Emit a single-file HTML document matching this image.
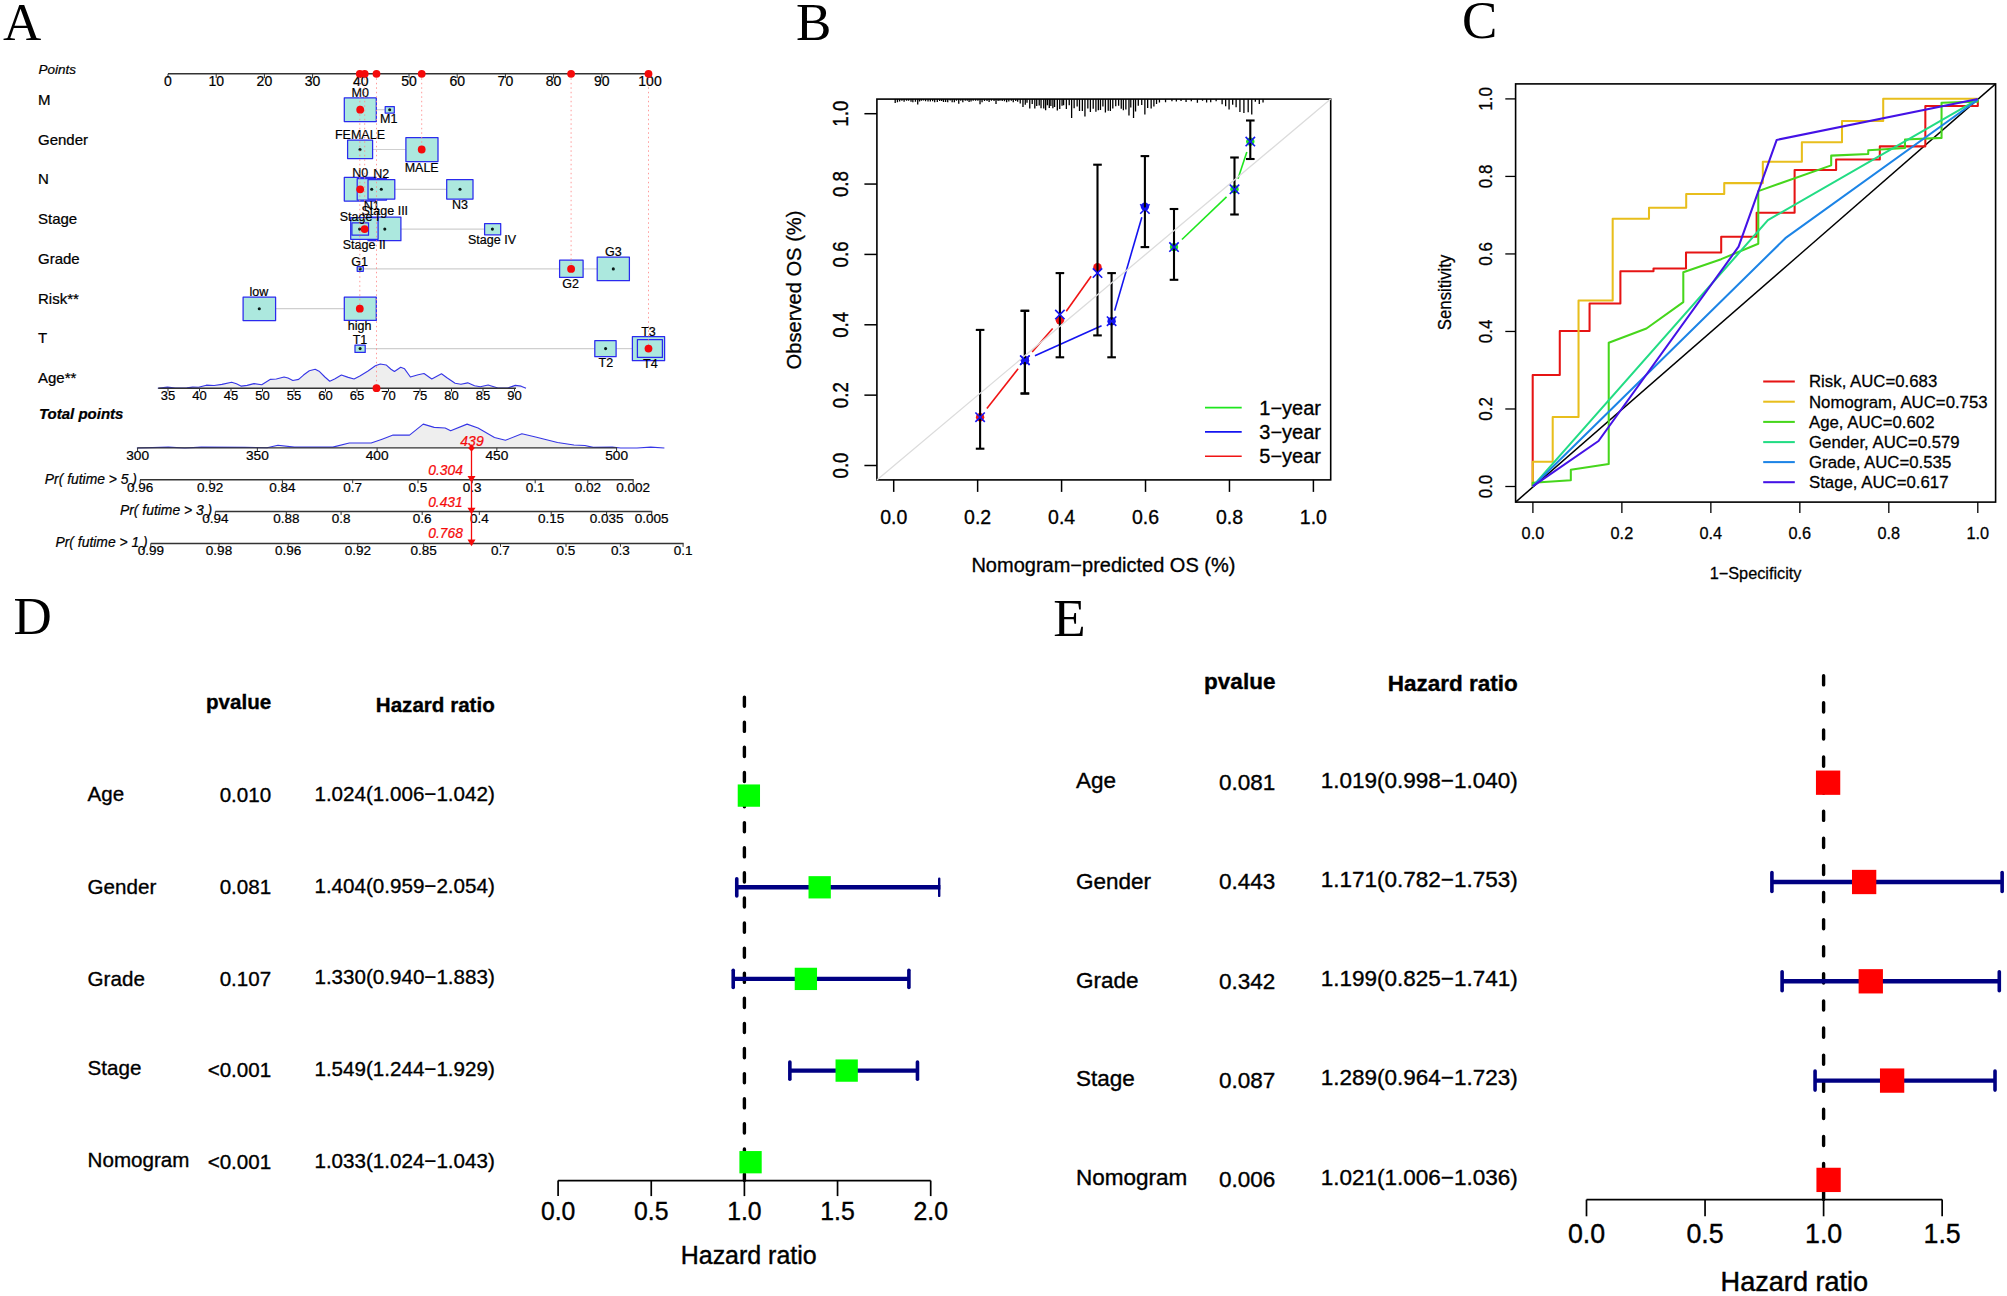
<!DOCTYPE html>
<html lang="en">
<head>
<meta charset="utf-8">
<title>Nomogram figure</title>
<style>
html,body{margin:0;padding:0;background:#fff;}
body{width:2007px;height:1296px;overflow:hidden;}
svg{display:block;}
svg text{font-family:"Liberation Sans", Arial, Helvetica, sans-serif;}
</style>
</head>
<body>
<svg width="2007" height="1296" viewBox="0 0 2007 1296">
<rect x="0" y="0" width="2007" height="1296" fill="#ffffff"/>
<g id="panel-a">
<text x="3" y="39.6" font-size="53" style='font-family:"Liberation Serif", "Times New Roman", Times, serif' fill="#000">A</text>
<line x1="168" y1="73.8" x2="650" y2="73.8" stroke="#333" stroke-width="1.6"/>
<line x1="168" y1="73.8" x2="168" y2="78" stroke="#333" stroke-width="1"/>
<text x="168" y="86.3" font-size="14" text-anchor="middle" fill="#000" stroke="#000" stroke-width="0.22">0</text>
<line x1="216.2" y1="73.8" x2="216.2" y2="78" stroke="#333" stroke-width="1"/>
<text x="216.2" y="86.3" font-size="14" text-anchor="middle" fill="#000" stroke="#000" stroke-width="0.22">10</text>
<line x1="264.4" y1="73.8" x2="264.4" y2="78" stroke="#333" stroke-width="1"/>
<text x="264.4" y="86.3" font-size="14" text-anchor="middle" fill="#000" stroke="#000" stroke-width="0.22">20</text>
<line x1="312.6" y1="73.8" x2="312.6" y2="78" stroke="#333" stroke-width="1"/>
<text x="312.6" y="86.3" font-size="14" text-anchor="middle" fill="#000" stroke="#000" stroke-width="0.22">30</text>
<line x1="360.8" y1="73.8" x2="360.8" y2="78" stroke="#333" stroke-width="1"/>
<text x="360.8" y="86.3" font-size="14" text-anchor="middle" fill="#000" stroke="#000" stroke-width="0.22">40</text>
<line x1="409" y1="73.8" x2="409" y2="78" stroke="#333" stroke-width="1"/>
<text x="409" y="86.3" font-size="14" text-anchor="middle" fill="#000" stroke="#000" stroke-width="0.22">50</text>
<line x1="457.2" y1="73.8" x2="457.2" y2="78" stroke="#333" stroke-width="1"/>
<text x="457.2" y="86.3" font-size="14" text-anchor="middle" fill="#000" stroke="#000" stroke-width="0.22">60</text>
<line x1="505.4" y1="73.8" x2="505.4" y2="78" stroke="#333" stroke-width="1"/>
<text x="505.4" y="86.3" font-size="14" text-anchor="middle" fill="#000" stroke="#000" stroke-width="0.22">70</text>
<line x1="553.6" y1="73.8" x2="553.6" y2="78" stroke="#333" stroke-width="1"/>
<text x="553.6" y="86.3" font-size="14" text-anchor="middle" fill="#000" stroke="#000" stroke-width="0.22">80</text>
<line x1="601.8" y1="73.8" x2="601.8" y2="78" stroke="#333" stroke-width="1"/>
<text x="601.8" y="86.3" font-size="14" text-anchor="middle" fill="#000" stroke="#000" stroke-width="0.22">90</text>
<line x1="650" y1="73.8" x2="650" y2="78" stroke="#333" stroke-width="1"/>
<text x="650" y="86.3" font-size="14" text-anchor="middle" fill="#000" stroke="#000" stroke-width="0.22">100</text>
<text x="38.5" y="73.8" font-size="13.5" font-style="italic" fill="#000" stroke="#000" stroke-width="0.22">Points</text>
<text x="38" y="104.7" font-size="15" fill="#000" stroke="#000" stroke-width="0.24">M</text>
<text x="38" y="144.8" font-size="15" fill="#000" stroke="#000" stroke-width="0.24">Gender</text>
<text x="38" y="184.3" font-size="15" fill="#000" stroke="#000" stroke-width="0.24">N</text>
<text x="38" y="223.8" font-size="15" fill="#000" stroke="#000" stroke-width="0.24">Stage</text>
<text x="38" y="263.8" font-size="15" fill="#000" stroke="#000" stroke-width="0.24">Grade</text>
<text x="38" y="303.9" font-size="15" fill="#000" stroke="#000" stroke-width="0.24">Risk**</text>
<text x="38" y="343.2" font-size="15" fill="#000" stroke="#000" stroke-width="0.24">T</text>
<text x="38" y="383.1" font-size="15" fill="#000" stroke="#000" stroke-width="0.24">Age**</text>
<text x="39" y="419.2" font-size="15" font-style="italic" font-weight="bold" fill="#000" stroke="#000" stroke-width="0.24">Total points</text>
<line x1="376.3" y1="109.7" x2="385.2" y2="109.7" stroke="#cfcfcf" stroke-width="1.2"/>
<rect x="344.3" y="97.8" width="32" height="23.7" fill="#ace8de" stroke="#2a2aee" stroke-width="1.25" stroke-linejoin="round"/>
<rect x="385.2" y="106.5" width="9.1" height="6.5" fill="#ace8de" stroke="#2a2aee" stroke-width="1.25" stroke-linejoin="round"/>
<circle cx="389.7" cy="109.7" r="1.55" fill="#0a1a18"/>
<text x="360.2" y="96.7" font-size="12.5" text-anchor="middle" fill="#000" stroke="#000" stroke-width="0.2">M0</text>
<text x="388.7" y="123.4" font-size="12.5" text-anchor="middle" fill="#000" stroke="#000" stroke-width="0.2">M1</text>
<line x1="372.6" y1="149.5" x2="405.9" y2="149.5" stroke="#cfcfcf" stroke-width="1.2"/>
<rect x="347.6" y="140.2" width="25" height="18.3" fill="#ace8de" stroke="#2a2aee" stroke-width="1.25" stroke-linejoin="round"/>
<rect x="405.9" y="137.6" width="32.1" height="23.9" fill="#ace8de" stroke="#2a2aee" stroke-width="1.25" stroke-linejoin="round"/>
<circle cx="360" cy="149.5" r="1.55" fill="#0a1a18"/>
<text x="360" y="139.3" font-size="12.5" text-anchor="middle" fill="#000" stroke="#000" stroke-width="0.2">FEMALE</text>
<text x="421.7" y="171.5" font-size="12.5" text-anchor="middle" fill="#000" stroke="#000" stroke-width="0.2">MALE</text>
<line x1="394.8" y1="189.3" x2="446.7" y2="189.3" stroke="#cfcfcf" stroke-width="1.2"/>
<rect x="344.3" y="177.4" width="32" height="23.7" fill="#ace8de" stroke="#2a2aee" stroke-width="1.25" stroke-linejoin="round"/>
<rect x="357.2" y="178.7" width="29.3" height="21.3" fill="#ace8de" stroke="#2a2aee" stroke-width="1.25" stroke-linejoin="round"/>
<rect x="368" y="179.6" width="26.8" height="19.4" fill="#ace8de" stroke="#2a2aee" stroke-width="1.25" stroke-linejoin="round"/>
<rect x="446.7" y="179.6" width="26.3" height="19.4" fill="#ace8de" stroke="#2a2aee" stroke-width="1.25" stroke-linejoin="round"/>
<circle cx="371.7" cy="189.3" r="1.55" fill="#0a1a18"/>
<circle cx="381.3" cy="189.3" r="1.55" fill="#0a1a18"/>
<circle cx="460" cy="189.3" r="1.55" fill="#0a1a18"/>
<text x="360.2" y="176.7" font-size="12.5" text-anchor="middle" fill="#000" stroke="#000" stroke-width="0.2">N0</text>
<text x="381.3" y="178.2" font-size="12.5" text-anchor="middle" fill="#000" stroke="#000" stroke-width="0.2">N2</text>
<text x="371.7" y="209.7" font-size="12.5" text-anchor="middle" fill="#000" stroke="#000" stroke-width="0.2">N1</text>
<text x="460" y="208.8" font-size="12.5" text-anchor="middle" fill="#000" stroke="#000" stroke-width="0.2">N3</text>
<line x1="400.9" y1="229.1" x2="484.6" y2="229.1" stroke="#cfcfcf" stroke-width="1.2"/>
<rect x="368" y="217" width="32.9" height="23.7" fill="#ace8de" stroke="#2a2aee" stroke-width="1.25" stroke-linejoin="round"/>
<rect x="350.7" y="217.6" width="27.4" height="21.7" fill="#ace8de" stroke="#2a2aee" stroke-width="1.25" stroke-linejoin="round"/>
<rect x="351.9" y="222.8" width="16.6" height="12.4" fill="#ace8de" stroke="#2a2aee" stroke-width="1.25" stroke-linejoin="round"/>
<rect x="484.6" y="223.5" width="16.1" height="11.3" fill="#ace8de" stroke="#2a2aee" stroke-width="1.25" stroke-linejoin="round"/>
<circle cx="359.6" cy="229.1" r="1.55" fill="#0a1a18"/>
<circle cx="384.8" cy="229.1" r="1.55" fill="#0a1a18"/>
<circle cx="492.4" cy="229.1" r="1.55" fill="#0a1a18"/>
<text x="359.6" y="220.6" font-size="12.5" text-anchor="middle" fill="#000" stroke="#000" stroke-width="0.2">Stage I</text>
<text x="384.8" y="215.1" font-size="12.5" text-anchor="middle" fill="#000" stroke="#000" stroke-width="0.2">Stage III</text>
<text x="364.3" y="248.6" font-size="12.5" text-anchor="middle" fill="#000" stroke="#000" stroke-width="0.2">Stage II</text>
<text x="492" y="244.1" font-size="12.5" text-anchor="middle" fill="#000" stroke="#000" stroke-width="0.2">Stage IV</text>
<line x1="363.3" y1="268.9" x2="559.6" y2="268.9" stroke="#cfcfcf" stroke-width="1.2"/>
<line x1="583.1" y1="268.9" x2="597.2" y2="268.9" stroke="#cfcfcf" stroke-width="1.2"/>
<rect x="357.2" y="266.7" width="6.1" height="4.6" fill="#ace8de" stroke="#2a2aee" stroke-width="1.25" stroke-linejoin="round"/>
<rect x="559.6" y="260.2" width="23.5" height="17.2" fill="#ace8de" stroke="#2a2aee" stroke-width="1.25" stroke-linejoin="round"/>
<rect x="597.2" y="257" width="32.2" height="23.7" fill="#ace8de" stroke="#2a2aee" stroke-width="1.25" stroke-linejoin="round"/>
<circle cx="360.2" cy="268.9" r="1.55" fill="#0a1a18"/>
<circle cx="613.3" cy="268.9" r="1.55" fill="#0a1a18"/>
<text x="359.6" y="266.2" font-size="12.5" text-anchor="middle" fill="#000" stroke="#000" stroke-width="0.2">G1</text>
<text x="613.3" y="256.4" font-size="12.5" text-anchor="middle" fill="#000" stroke="#000" stroke-width="0.2">G3</text>
<text x="570.7" y="288.2" font-size="12.5" text-anchor="middle" fill="#000" stroke="#000" stroke-width="0.2">G2</text>
<line x1="275.6" y1="308.7" x2="344.3" y2="308.7" stroke="#cfcfcf" stroke-width="1.2"/>
<rect x="243.1" y="297.2" width="32.5" height="23.4" fill="#ace8de" stroke="#2a2aee" stroke-width="1.25" stroke-linejoin="round"/>
<rect x="344.3" y="297.2" width="32" height="23.2" fill="#ace8de" stroke="#2a2aee" stroke-width="1.25" stroke-linejoin="round"/>
<circle cx="259.3" cy="308.7" r="1.55" fill="#0a1a18"/>
<text x="258.9" y="296.4" font-size="12.5" text-anchor="middle" fill="#000" stroke="#000" stroke-width="0.2">low</text>
<text x="359.6" y="329.7" font-size="12.5" text-anchor="middle" fill="#000" stroke="#000" stroke-width="0.2">high</text>
<line x1="365.2" y1="348.6" x2="594.8" y2="348.6" stroke="#cfcfcf" stroke-width="1.2"/>
<line x1="616.1" y1="348.6" x2="632.4" y2="348.6" stroke="#cfcfcf" stroke-width="1.2"/>
<rect x="355" y="345" width="10.2" height="7.4" fill="#ace8de" stroke="#2a2aee" stroke-width="1.25" stroke-linejoin="round"/>
<rect x="594.8" y="340.7" width="21.3" height="16" fill="#ace8de" stroke="#2a2aee" stroke-width="1.25" stroke-linejoin="round"/>
<rect x="632.4" y="336.7" width="32.2" height="24" fill="#ace8de" stroke="#2a2aee" stroke-width="1.25" stroke-linejoin="round"/>
<rect x="637.4" y="339.6" width="25" height="17.8" fill="#ace8de" stroke="#2a2aee" stroke-width="1.25" stroke-linejoin="round"/>
<circle cx="360.1" cy="348.6" r="1.55" fill="#0a1a18"/>
<circle cx="605.6" cy="348.6" r="1.55" fill="#0a1a18"/>
<text x="360" y="343.9" font-size="12.5" text-anchor="middle" fill="#000" stroke="#000" stroke-width="0.2">T1</text>
<text x="605.9" y="366.5" font-size="12.5" text-anchor="middle" fill="#000" stroke="#000" stroke-width="0.2">T2</text>
<text x="648.5" y="335.6" font-size="12.5" text-anchor="middle" fill="#000" stroke="#000" stroke-width="0.2">T3</text>
<text x="650.4" y="368" font-size="12.5" text-anchor="middle" fill="#000" stroke="#000" stroke-width="0.2">T4</text>
<polygon points="157.77,388.28 167.49,387.11 175.26,388.08 186.92,387.89 192.75,387.11 198.58,387.3 206.35,385.17 214.13,385.56 221.9,384.39 231.62,382.25 236.47,383.81 241.33,386.14 247.16,385.36 253.96,383.61 261.74,384.78 270.48,379.34 276.31,378.95 284.08,377.01 287.97,377.98 292.83,380.5 298.66,379.34 303.52,375.06 309.35,370.79 315.18,369.23 319.06,371.18 324.89,377.01 329.75,381.28 334.61,378.95 341.41,375.06 348.21,377.39 354.04,378.95 359.87,376.03 367.64,371.18 375.42,365.73 380.28,363.99 386.11,364.96 390.96,369.23 394.46,371.56 400.68,367.29 404.57,368.84 410.4,377.01 418.17,374.67 424,373.51 431.77,378.95 441.49,373.7 447.32,377.98 455.09,383.22 460.92,384.2 467.72,382.84 474.52,385.75 480.35,386.72 488.13,384.97 497.84,388.08 507.56,388.08 515.33,385.36 521.16,386.14 526.02,388.28" fill="#eeeeee" stroke="none"/>
<polyline points="157.77,388.28 167.49,387.11 175.26,388.08 186.92,387.89 192.75,387.11 198.58,387.3 206.35,385.17 214.13,385.56 221.9,384.39 231.62,382.25 236.47,383.81 241.33,386.14 247.16,385.36 253.96,383.61 261.74,384.78 270.48,379.34 276.31,378.95 284.08,377.01 287.97,377.98 292.83,380.5 298.66,379.34 303.52,375.06 309.35,370.79 315.18,369.23 319.06,371.18 324.89,377.01 329.75,381.28 334.61,378.95 341.41,375.06 348.21,377.39 354.04,378.95 359.87,376.03 367.64,371.18 375.42,365.73 380.28,363.99 386.11,364.96 390.96,369.23 394.46,371.56 400.68,367.29 404.57,368.84 410.4,377.01 418.17,374.67 424,373.51 431.77,378.95 441.49,373.7 447.32,377.98 455.09,383.22 460.92,384.2 467.72,382.84 474.52,385.75 480.35,386.72 488.13,384.97 497.84,388.08 507.56,388.08 515.33,385.36 521.16,386.14 526.02,388.28" fill="none" stroke="#3636e6" stroke-width="1.1" stroke-linejoin="round"/>
<line x1="158.3" y1="388.3" x2="516" y2="388.3" stroke="#333" stroke-width="1.4"/>
<line x1="168" y1="388.3" x2="168" y2="391.5" stroke="#333" stroke-width="1"/>
<text x="168" y="399.5" font-size="13" text-anchor="middle" fill="#000" stroke="#000" stroke-width="0.21">35</text>
<line x1="199.5" y1="388.3" x2="199.5" y2="391.5" stroke="#333" stroke-width="1"/>
<text x="199.5" y="399.5" font-size="13" text-anchor="middle" fill="#000" stroke="#000" stroke-width="0.21">40</text>
<line x1="231" y1="388.3" x2="231" y2="391.5" stroke="#333" stroke-width="1"/>
<text x="231" y="399.5" font-size="13" text-anchor="middle" fill="#000" stroke="#000" stroke-width="0.21">45</text>
<line x1="262.5" y1="388.3" x2="262.5" y2="391.5" stroke="#333" stroke-width="1"/>
<text x="262.5" y="399.5" font-size="13" text-anchor="middle" fill="#000" stroke="#000" stroke-width="0.21">50</text>
<line x1="294" y1="388.3" x2="294" y2="391.5" stroke="#333" stroke-width="1"/>
<text x="294" y="399.5" font-size="13" text-anchor="middle" fill="#000" stroke="#000" stroke-width="0.21">55</text>
<line x1="325.5" y1="388.3" x2="325.5" y2="391.5" stroke="#333" stroke-width="1"/>
<text x="325.5" y="399.5" font-size="13" text-anchor="middle" fill="#000" stroke="#000" stroke-width="0.21">60</text>
<line x1="357" y1="388.3" x2="357" y2="391.5" stroke="#333" stroke-width="1"/>
<text x="357" y="399.5" font-size="13" text-anchor="middle" fill="#000" stroke="#000" stroke-width="0.21">65</text>
<line x1="388.5" y1="388.3" x2="388.5" y2="391.5" stroke="#333" stroke-width="1"/>
<text x="388.5" y="399.5" font-size="13" text-anchor="middle" fill="#000" stroke="#000" stroke-width="0.21">70</text>
<line x1="420" y1="388.3" x2="420" y2="391.5" stroke="#333" stroke-width="1"/>
<text x="420" y="399.5" font-size="13" text-anchor="middle" fill="#000" stroke="#000" stroke-width="0.21">75</text>
<line x1="451.5" y1="388.3" x2="451.5" y2="391.5" stroke="#333" stroke-width="1"/>
<text x="451.5" y="399.5" font-size="13" text-anchor="middle" fill="#000" stroke="#000" stroke-width="0.21">80</text>
<line x1="483" y1="388.3" x2="483" y2="391.5" stroke="#333" stroke-width="1"/>
<text x="483" y="399.5" font-size="13" text-anchor="middle" fill="#000" stroke="#000" stroke-width="0.21">85</text>
<line x1="514.5" y1="388.3" x2="514.5" y2="391.5" stroke="#333" stroke-width="1"/>
<text x="514.5" y="399.5" font-size="13" text-anchor="middle" fill="#000" stroke="#000" stroke-width="0.21">90</text>
<polygon points="136.85,447.96 168.37,447.14 184.81,447.96 201.25,447.14 245.1,447.41 267.02,447.68 277.99,445.22 294.43,447.14 332.8,447.14 349.24,443.03 371.16,443.03 382.12,439.19 393.09,435.08 409.53,435.08 423.23,424.12 434.19,427.4 445.15,427.95 450.64,430.69 467.08,424.12 478.04,427.95 494.48,437.54 505.45,440.29 521.89,433.71 535.59,437 557.51,442.48 573.96,444.94 584.92,445.49 593.14,447.41 612.32,447.14 620.55,447.96 636.99,447.96 650.69,447.14 664.39,447.96" fill="#eeeeee" stroke="none"/>
<polyline points="136.85,447.96 168.37,447.14 184.81,447.96 201.25,447.14 245.1,447.41 267.02,447.68 277.99,445.22 294.43,447.14 332.8,447.14 349.24,443.03 371.16,443.03 382.12,439.19 393.09,435.08 409.53,435.08 423.23,424.12 434.19,427.4 445.15,427.95 450.64,430.69 467.08,424.12 478.04,427.95 494.48,437.54 505.45,440.29 521.89,433.71 535.59,437 557.51,442.48 573.96,444.94 584.92,445.49 593.14,447.41 612.32,447.14 620.55,447.96 636.99,447.96 650.69,447.14 664.39,447.96" fill="none" stroke="#3636e6" stroke-width="1.1" stroke-linejoin="round"/>
<line x1="137.4" y1="447.9" x2="617" y2="447.9" stroke="#333" stroke-width="1.4"/>
<line x1="137.6" y1="447.9" x2="137.6" y2="451.5" stroke="#333" stroke-width="1"/>
<text x="137.6" y="459.9" font-size="13.7" text-anchor="middle" fill="#000" stroke="#000" stroke-width="0.22">300</text>
<line x1="257.35" y1="447.9" x2="257.35" y2="451.5" stroke="#333" stroke-width="1"/>
<text x="257.35" y="459.9" font-size="13.7" text-anchor="middle" fill="#000" stroke="#000" stroke-width="0.22">350</text>
<line x1="377.1" y1="447.9" x2="377.1" y2="451.5" stroke="#333" stroke-width="1"/>
<text x="377.1" y="459.9" font-size="13.7" text-anchor="middle" fill="#000" stroke="#000" stroke-width="0.22">400</text>
<line x1="496.85" y1="447.9" x2="496.85" y2="451.5" stroke="#333" stroke-width="1"/>
<text x="496.85" y="459.9" font-size="13.7" text-anchor="middle" fill="#000" stroke="#000" stroke-width="0.22">450</text>
<line x1="616.6" y1="447.9" x2="616.6" y2="451.5" stroke="#333" stroke-width="1"/>
<text x="616.6" y="459.9" font-size="13.7" text-anchor="middle" fill="#000" stroke="#000" stroke-width="0.22">500</text>
<line x1="359.8" y1="73.8" x2="359.8" y2="308.7" stroke="#ff8a8a" stroke-width="1" stroke-dasharray="1.5 3" opacity="0.85"/>
<line x1="364.7" y1="73.8" x2="364.7" y2="229.1" stroke="#ff8a8a" stroke-width="1" stroke-dasharray="1.5 3" opacity="0.85"/>
<line x1="376.5" y1="73.8" x2="376.5" y2="388.2" stroke="#ff8a8a" stroke-width="1" stroke-dasharray="1.5 3" opacity="0.85"/>
<line x1="421.7" y1="73.8" x2="421.7" y2="149.5" stroke="#ff8a8a" stroke-width="1" stroke-dasharray="1.5 3" opacity="0.85"/>
<line x1="571.1" y1="73.8" x2="571.1" y2="268.9" stroke="#ff8a8a" stroke-width="1" stroke-dasharray="1.5 3" opacity="0.85"/>
<line x1="648.5" y1="73.8" x2="648.5" y2="348.5" stroke="#ff8a8a" stroke-width="1" stroke-dasharray="1.5 3" opacity="0.85"/>
<circle cx="359.8" cy="73.8" r="3.9" fill="#f50a0a"/>
<circle cx="364.7" cy="73.8" r="3.9" fill="#f50a0a"/>
<circle cx="376.5" cy="73.8" r="3.9" fill="#f50a0a"/>
<circle cx="421.7" cy="73.8" r="3.9" fill="#f50a0a"/>
<circle cx="571.1" cy="73.8" r="3.9" fill="#f50a0a"/>
<circle cx="648.5" cy="73.8" r="3.9" fill="#f50a0a"/>
<circle cx="360.2" cy="109.7" r="3.9" fill="#f50a0a"/>
<circle cx="421.7" cy="149.5" r="3.9" fill="#f50a0a"/>
<circle cx="360.2" cy="189.3" r="3.9" fill="#f50a0a"/>
<circle cx="364.6" cy="229.1" r="3.9" fill="#f50a0a"/>
<circle cx="571.1" cy="268.9" r="3.9" fill="#f50a0a"/>
<circle cx="359.8" cy="308.7" r="3.9" fill="#f50a0a"/>
<circle cx="648.5" cy="348.6" r="3.9" fill="#f50a0a"/>
<circle cx="376.5" cy="388.2" r="3.9" fill="#f50a0a"/>
<line x1="140" y1="479.8" x2="633.7" y2="479.8" stroke="#333" stroke-width="1.5"/>
<text x="137" y="483.7" font-size="13.9" text-anchor="end" font-style="italic" fill="#000" stroke="#000" stroke-width="0.22">Pr( futime &gt; 5 )</text>
<line x1="140.2" y1="479.8" x2="140.2" y2="483.3" stroke="#333" stroke-width="1"/>
<text x="140.2" y="491.5" font-size="13.5" text-anchor="middle" fill="#000" stroke="#000" stroke-width="0.22">0.96</text>
<line x1="210.2" y1="479.8" x2="210.2" y2="483.3" stroke="#333" stroke-width="1"/>
<text x="210.2" y="491.5" font-size="13.5" text-anchor="middle" fill="#000" stroke="#000" stroke-width="0.22">0.92</text>
<line x1="282.4" y1="479.8" x2="282.4" y2="483.3" stroke="#333" stroke-width="1"/>
<text x="282.4" y="491.5" font-size="13.5" text-anchor="middle" fill="#000" stroke="#000" stroke-width="0.22">0.84</text>
<line x1="352.7" y1="479.8" x2="352.7" y2="483.3" stroke="#333" stroke-width="1"/>
<text x="352.7" y="491.5" font-size="13.5" text-anchor="middle" fill="#000" stroke="#000" stroke-width="0.22">0.7</text>
<line x1="418" y1="479.8" x2="418" y2="483.3" stroke="#333" stroke-width="1"/>
<text x="418" y="491.5" font-size="13.5" text-anchor="middle" fill="#000" stroke="#000" stroke-width="0.22">0.5</text>
<line x1="472.2" y1="479.8" x2="472.2" y2="483.3" stroke="#333" stroke-width="1"/>
<text x="472.2" y="491.5" font-size="13.5" text-anchor="middle" fill="#000" stroke="#000" stroke-width="0.22">0.3</text>
<line x1="535.2" y1="479.8" x2="535.2" y2="483.3" stroke="#333" stroke-width="1"/>
<text x="535.2" y="491.5" font-size="13.5" text-anchor="middle" fill="#000" stroke="#000" stroke-width="0.22">0.1</text>
<line x1="587.8" y1="479.8" x2="587.8" y2="483.3" stroke="#333" stroke-width="1"/>
<text x="587.8" y="491.5" font-size="13.5" text-anchor="middle" fill="#000" stroke="#000" stroke-width="0.22">0.02</text>
<line x1="633.1" y1="479.8" x2="633.1" y2="483.3" stroke="#333" stroke-width="1"/>
<text x="633.1" y="491.5" font-size="13.5" text-anchor="middle" fill="#000" stroke="#000" stroke-width="0.22">0.002</text>
<line x1="215.3" y1="511.5" x2="652.3" y2="511.5" stroke="#333" stroke-width="1.5"/>
<text x="212.2" y="515.4" font-size="13.9" text-anchor="end" font-style="italic" fill="#000" stroke="#000" stroke-width="0.22">Pr( futime &gt; 3 )</text>
<line x1="215.3" y1="511.5" x2="215.3" y2="515" stroke="#333" stroke-width="1"/>
<text x="215.3" y="523.2" font-size="13.5" text-anchor="middle" fill="#000" stroke="#000" stroke-width="0.22">0.94</text>
<line x1="286.3" y1="511.5" x2="286.3" y2="515" stroke="#333" stroke-width="1"/>
<text x="286.3" y="523.2" font-size="13.5" text-anchor="middle" fill="#000" stroke="#000" stroke-width="0.22">0.88</text>
<line x1="341.1" y1="511.5" x2="341.1" y2="515" stroke="#333" stroke-width="1"/>
<text x="341.1" y="523.2" font-size="13.5" text-anchor="middle" fill="#000" stroke="#000" stroke-width="0.22">0.8</text>
<line x1="422.2" y1="511.5" x2="422.2" y2="515" stroke="#333" stroke-width="1"/>
<text x="422.2" y="523.2" font-size="13.5" text-anchor="middle" fill="#000" stroke="#000" stroke-width="0.22">0.6</text>
<line x1="479.3" y1="511.5" x2="479.3" y2="515" stroke="#333" stroke-width="1"/>
<text x="479.3" y="523.2" font-size="13.5" text-anchor="middle" fill="#000" stroke="#000" stroke-width="0.22">0.4</text>
<line x1="551.2" y1="511.5" x2="551.2" y2="515" stroke="#333" stroke-width="1"/>
<text x="551.2" y="523.2" font-size="13.5" text-anchor="middle" fill="#000" stroke="#000" stroke-width="0.22">0.15</text>
<line x1="606.6" y1="511.5" x2="606.6" y2="515" stroke="#333" stroke-width="1"/>
<text x="606.6" y="523.2" font-size="13.5" text-anchor="middle" fill="#000" stroke="#000" stroke-width="0.22">0.035</text>
<line x1="651.7" y1="511.5" x2="651.7" y2="515" stroke="#333" stroke-width="1"/>
<text x="651.7" y="523.2" font-size="13.5" text-anchor="middle" fill="#000" stroke="#000" stroke-width="0.22">0.005</text>
<line x1="150.8" y1="543.4" x2="683.6" y2="543.4" stroke="#333" stroke-width="1.5"/>
<text x="147.7" y="547.3" font-size="13.9" text-anchor="end" font-style="italic" fill="#000" stroke="#000" stroke-width="0.22">Pr( futime &gt; 1 )</text>
<line x1="150.8" y1="543.4" x2="150.8" y2="546.9" stroke="#333" stroke-width="1"/>
<text x="150.8" y="555.1" font-size="13.5" text-anchor="middle" fill="#000" stroke="#000" stroke-width="0.22">0.99</text>
<line x1="219" y1="543.4" x2="219" y2="546.9" stroke="#333" stroke-width="1"/>
<text x="219" y="555.1" font-size="13.5" text-anchor="middle" fill="#000" stroke="#000" stroke-width="0.22">0.98</text>
<line x1="288.2" y1="543.4" x2="288.2" y2="546.9" stroke="#333" stroke-width="1"/>
<text x="288.2" y="555.1" font-size="13.5" text-anchor="middle" fill="#000" stroke="#000" stroke-width="0.22">0.96</text>
<line x1="357.8" y1="543.4" x2="357.8" y2="546.9" stroke="#333" stroke-width="1"/>
<text x="357.8" y="555.1" font-size="13.5" text-anchor="middle" fill="#000" stroke="#000" stroke-width="0.22">0.92</text>
<line x1="423.7" y1="543.4" x2="423.7" y2="546.9" stroke="#333" stroke-width="1"/>
<text x="423.7" y="555.1" font-size="13.5" text-anchor="middle" fill="#000" stroke="#000" stroke-width="0.22">0.85</text>
<line x1="500.5" y1="543.4" x2="500.5" y2="546.9" stroke="#333" stroke-width="1"/>
<text x="500.5" y="555.1" font-size="13.5" text-anchor="middle" fill="#000" stroke="#000" stroke-width="0.22">0.7</text>
<line x1="566" y1="543.4" x2="566" y2="546.9" stroke="#333" stroke-width="1"/>
<text x="566" y="555.1" font-size="13.5" text-anchor="middle" fill="#000" stroke="#000" stroke-width="0.22">0.5</text>
<line x1="620.4" y1="543.4" x2="620.4" y2="546.9" stroke="#333" stroke-width="1"/>
<text x="620.4" y="555.1" font-size="13.5" text-anchor="middle" fill="#000" stroke="#000" stroke-width="0.22">0.3</text>
<line x1="683.1" y1="543.4" x2="683.1" y2="546.9" stroke="#333" stroke-width="1"/>
<text x="683.1" y="555.1" font-size="13.5" text-anchor="middle" fill="#000" stroke="#000" stroke-width="0.22">0.1</text>
<line x1="471.5" y1="448" x2="471.5" y2="545" stroke="#f50a0a" stroke-width="1.3"/>
<polygon points="471.5,444.6 474.9,448 471.5,451.4 468.1,448" fill="#f50a0a"/>
<polygon points="467.5,476 475.5,476 471.5,482.6" fill="#f50a0a"/>
<polygon points="467.5,507.7 475.5,507.7 471.5,514.3" fill="#f50a0a"/>
<polygon points="467.5,539.6 475.5,539.6 471.5,546.2" fill="#f50a0a"/>
<text x="472" y="445.8" font-size="14" text-anchor="middle" font-style="italic" fill="#f50a0a" stroke="#f50a0a" stroke-width="0.22">439</text>
<text x="445.6" y="474.8" font-size="13.8" text-anchor="middle" font-style="italic" fill="#f50a0a" stroke="#f50a0a" stroke-width="0.22">0.304</text>
<text x="445.4" y="506.8" font-size="13.8" text-anchor="middle" font-style="italic" fill="#f50a0a" stroke="#f50a0a" stroke-width="0.22">0.431</text>
<text x="445.6" y="538.4" font-size="13.8" text-anchor="middle" font-style="italic" fill="#f50a0a" stroke="#f50a0a" stroke-width="0.22">0.768</text>
</g>
<g id="panel-b">
<text x="796" y="39.8" font-size="53" style='font-family:"Liberation Serif", "Times New Roman", Times, serif' fill="#000">B</text>
<path d="M895.2 99.1v4M897.45 99.1v3.06M899.62 99.1v2.31M901.89 99.1v1.73M904.1 99.1v2.53M906.53 99.1v1.57M908.58 99.1v1.56M911.02 99.1v2.65M912.86 99.1v3.17M915.43 99.1v2.58M917.72 99.1v5.5M919.53 99.1v2.35M921.38 99.1v1.74M923.38 99.1v1.45M925.55 99.1v2.19M928.02 99.1v2.33M930.33 99.1v2.3M932.66 99.1v2.22M934.69 99.1v3.2M937.28 99.1v2.91M939.65 99.1v1.97M941.63 99.1v1.92M943.49 99.1v2.78M945.61 99.1v2.92M947.72 99.1v3.12M950.2 99.1v1.4M952.16 99.1v3.04M954.34 99.1v3.16M956.46 99.1v1.53M958.76 99.1v4.6M960.78 99.1v1.56M962.84 99.1v3.14M965.25 99.1v1.61M967.25 99.1v1.58M969.09 99.1v2.83M971.04 99.1v2.41M973.19 99.1v1.74M975.58 99.1v1.64M977.89 99.1v1.61M980.03 99.1v5.2M982.05 99.1v3.15M984.49 99.1v1.95M987 99.1v1.78M989.11 99.1v2.94M991.43 99.1v1.58M994.02 99.1v1.78M996.02 99.1v5M998.09 99.1v1.93M999.95 99.1v1.56M1002.21 99.1v1.84M1004.49 99.1v2.07M1006.66 99.1v3.13M1008.84 99.1v2.43M1011.34 99.1v1.73M1013.26 99.1v3.04M1015.71 99.1v1.85M1017.67 99.1v2.73M1020.22 99.1v4.48M1022.96 99.1v7.91M1025.28 99.1v5.61M1027.01 99.1v3.69M1029.76 99.1v9.5M1032.21 99.1v4.78M1034.8 99.1v9.28M1036.71 99.1v6.96M1039.22 99.1v6.38M1041.04 99.1v9.08M1043.73 99.1v9.38M1045.62 99.1v11.05M1047.41 99.1v6.09M1049.28 99.1v9M1050.87 99.1v6.97M1052.88 99.1v9.15M1054.57 99.1v7.99M1057.32 99.1v11.39M1059.74 99.1v9.8M1062.05 99.1v6.77M1063.6 99.1v6.1M1066.38 99.1v9.86M1069.23 99.1v6.12M1071.62 99.1v19M1074.14 99.1v9.07M1077.14 99.1v7.49M1079.5 99.1v11.79M1082.36 99.1v11.79M1084.95 99.1v17.5M1087.83 99.1v9.29M1090.39 99.1v12.86M1093.21 99.1v9.71M1095.91 99.1v12.61M1098.32 99.1v11.06M1100.45 99.1v10.79M1102.9 99.1v7.52M1105.4 99.1v13.46M1108.23 99.1v11.73M1110.37 99.1v11.78M1112.79 99.1v9.36M1115.76 99.1v7.04M1118.61 99.1v6.69M1121.25 99.1v9.63M1123.38 99.1v11.04M1125.87 99.1v10.49M1128.96 99.1v16.5M1130.78 99.1v8.46M1133.53 99.1v19M1135.56 99.1v12.39M1138.29 99.1v6.65M1141.74 99.1v5.96M1144.87 99.1v15.5M1147.67 99.1v8.84M1151.15 99.1v9.28M1153.89 99.1v7.5M1156.53 99.1v4.82M1159.43 99.1v3.41M1165.55 99.1v3.11M1171.92 99.1v2.06M1176.35 99.1v2.48M1181.04 99.1v1.91M1186.07 99.1v2.9M1191.3 99.1v2.16M1197.4 99.1v3.76M1202.53 99.1v1.58M1206.61 99.1v3.49M1210.72 99.1v3.1M1216.14 99.1v2.14M1222.12 99.1v5.1M1225.64 99.1v7.27M1229.07 99.1v10.5M1232.68 99.1v5.7M1236.12 99.1v8.15M1239.92 99.1v12.78M1243.91 99.1v13.84M1248.18 99.1v13.11M1251.76 99.1v15.5M1255.32 99.1v2.54M1259.29 99.1v5M1263.04 99.1v3.45" stroke="#000" stroke-width="1.3" fill="none"/>
<rect x="876.9" y="99.1" width="453.8" height="380.8" fill="none" stroke="#000" stroke-width="1.6"/>
<line x1="864.4" y1="465.5" x2="876.9" y2="465.5" stroke="#000" stroke-width="1.5"/>
<text font-size="18.7" text-anchor="middle" fill="#000" stroke="#000" stroke-width="0.3" transform="translate(848.4 465.5) rotate(-90) scale(1 1.15)">0.0</text>
<line x1="864.4" y1="395.14" x2="876.9" y2="395.14" stroke="#000" stroke-width="1.5"/>
<text font-size="18.7" text-anchor="middle" fill="#000" stroke="#000" stroke-width="0.3" transform="translate(848.4 395.14) rotate(-90) scale(1 1.15)">0.2</text>
<line x1="864.4" y1="324.78" x2="876.9" y2="324.78" stroke="#000" stroke-width="1.5"/>
<text font-size="18.7" text-anchor="middle" fill="#000" stroke="#000" stroke-width="0.3" transform="translate(848.4 324.78) rotate(-90) scale(1 1.15)">0.4</text>
<line x1="864.4" y1="254.42" x2="876.9" y2="254.42" stroke="#000" stroke-width="1.5"/>
<text font-size="18.7" text-anchor="middle" fill="#000" stroke="#000" stroke-width="0.3" transform="translate(848.4 254.42) rotate(-90) scale(1 1.15)">0.6</text>
<line x1="864.4" y1="184.06" x2="876.9" y2="184.06" stroke="#000" stroke-width="1.5"/>
<text font-size="18.7" text-anchor="middle" fill="#000" stroke="#000" stroke-width="0.3" transform="translate(848.4 184.06) rotate(-90) scale(1 1.15)">0.8</text>
<line x1="864.4" y1="113.7" x2="876.9" y2="113.7" stroke="#000" stroke-width="1.5"/>
<text font-size="18.7" text-anchor="middle" fill="#000" stroke="#000" stroke-width="0.3" transform="translate(848.4 113.7) rotate(-90) scale(1 1.15)">1.0</text>
<line x1="893.7" y1="479.9" x2="893.7" y2="491.9" stroke="#000" stroke-width="1.5"/>
<text font-size="19.5" text-anchor="middle" fill="#000" stroke="#000" stroke-width="0.3" transform="translate(893.7 524.1) scale(1 1.08)">0.0</text>
<line x1="977.64" y1="479.9" x2="977.64" y2="491.9" stroke="#000" stroke-width="1.5"/>
<text font-size="19.5" text-anchor="middle" fill="#000" stroke="#000" stroke-width="0.3" transform="translate(977.64 524.1) scale(1 1.08)">0.2</text>
<line x1="1061.58" y1="479.9" x2="1061.58" y2="491.9" stroke="#000" stroke-width="1.5"/>
<text font-size="19.5" text-anchor="middle" fill="#000" stroke="#000" stroke-width="0.3" transform="translate(1061.58 524.1) scale(1 1.08)">0.4</text>
<line x1="1145.52" y1="479.9" x2="1145.52" y2="491.9" stroke="#000" stroke-width="1.5"/>
<text font-size="19.5" text-anchor="middle" fill="#000" stroke="#000" stroke-width="0.3" transform="translate(1145.52 524.1) scale(1 1.08)">0.6</text>
<line x1="1229.46" y1="479.9" x2="1229.46" y2="491.9" stroke="#000" stroke-width="1.5"/>
<text font-size="19.5" text-anchor="middle" fill="#000" stroke="#000" stroke-width="0.3" transform="translate(1229.46 524.1) scale(1 1.08)">0.8</text>
<line x1="1313.4" y1="479.9" x2="1313.4" y2="491.9" stroke="#000" stroke-width="1.5"/>
<text font-size="19.5" text-anchor="middle" fill="#000" stroke="#000" stroke-width="0.3" transform="translate(1313.4 524.1) scale(1 1.08)">1.0</text>
<text font-size="20.15" text-anchor="middle" fill="#000" stroke="#000" stroke-width="0.3" transform="translate(800.6 290) rotate(-90) scale(1 1.04)">Observed OS (%)</text>
<text x="1103.4" y="571.6" font-size="20" text-anchor="middle" fill="#000" stroke="#000" stroke-width="0.32">Nomogram−predicted OS (%)</text>
<line x1="1181.95" y1="239.5" x2="1226.55" y2="196.9" stroke="#1ee61e" stroke-width="1.6"/>
<line x1="1237.96" y1="178.86" x2="1246.84" y2="152.04" stroke="#1ee61e" stroke-width="1.6"/>
<line x1="1034.93" y1="355.69" x2="1101.57" y2="325.71" stroke="#1414f0" stroke-width="1.6"/>
<line x1="1114.67" y1="310.64" x2="1141.83" y2="217.16" stroke="#1414f0" stroke-width="1.6"/>
<line x1="986.9" y1="408.55" x2="1018.1" y2="368.85" stroke="#f01414" stroke-width="1.6"/>
<line x1="1032.15" y1="351.93" x2="1052.65" y2="328.57" stroke="#f01414" stroke-width="1.6"/>
<line x1="1066.26" y1="311.33" x2="1091.14" y2="276.27" stroke="#f01414" stroke-width="1.6"/>
<circle cx="1174" cy="247.1" r="4.2" fill="#1ee61e"/>
<circle cx="1234.5" cy="189.3" r="4.2" fill="#1ee61e"/>
<circle cx="1250.3" cy="141.6" r="4.2" fill="#1ee61e"/>
<circle cx="980.1" cy="417.2" r="4.2" fill="#f01414"/>
<circle cx="1024.9" cy="360.2" r="4.2" fill="#f01414"/>
<circle cx="1059.9" cy="320.3" r="4.2" fill="#f01414"/>
<circle cx="1097.5" cy="267.3" r="4.2" fill="#f01414"/>
<circle cx="1024.9" cy="360.2" r="4.2" fill="#1414f0"/>
<circle cx="1111.6" cy="321.2" r="4.2" fill="#1414f0"/>
<circle cx="1144.9" cy="206.6" r="4.2" fill="#1414f0"/>
<line x1="1174" y1="209" x2="1174" y2="279.8" stroke="#000" stroke-width="2.1"/>
<line x1="1169.7" y1="209" x2="1178.3" y2="209" stroke="#000" stroke-width="2.1"/>
<line x1="1169.7" y1="279.8" x2="1178.3" y2="279.8" stroke="#000" stroke-width="2.1"/>
<line x1="1234.5" y1="157.5" x2="1234.5" y2="214.5" stroke="#000" stroke-width="2.1"/>
<line x1="1230.2" y1="157.5" x2="1238.8" y2="157.5" stroke="#000" stroke-width="2.1"/>
<line x1="1230.2" y1="214.5" x2="1238.8" y2="214.5" stroke="#000" stroke-width="2.1"/>
<line x1="1250.3" y1="120.5" x2="1250.3" y2="159" stroke="#000" stroke-width="2.1"/>
<line x1="1246" y1="120.5" x2="1254.6" y2="120.5" stroke="#000" stroke-width="2.1"/>
<line x1="1246" y1="159" x2="1254.6" y2="159" stroke="#000" stroke-width="2.1"/>
<line x1="1024.9" y1="310.8" x2="1024.9" y2="393.5" stroke="#000" stroke-width="2.1"/>
<line x1="1020.6" y1="310.8" x2="1029.2" y2="310.8" stroke="#000" stroke-width="2.1"/>
<line x1="1020.6" y1="393.5" x2="1029.2" y2="393.5" stroke="#000" stroke-width="2.1"/>
<line x1="1111.6" y1="273.1" x2="1111.6" y2="357.3" stroke="#000" stroke-width="2.1"/>
<line x1="1107.3" y1="273.1" x2="1115.9" y2="273.1" stroke="#000" stroke-width="2.1"/>
<line x1="1107.3" y1="357.3" x2="1115.9" y2="357.3" stroke="#000" stroke-width="2.1"/>
<line x1="1144.9" y1="156.1" x2="1144.9" y2="247.1" stroke="#000" stroke-width="2.1"/>
<line x1="1140.6" y1="156.1" x2="1149.2" y2="156.1" stroke="#000" stroke-width="2.1"/>
<line x1="1140.6" y1="247.1" x2="1149.2" y2="247.1" stroke="#000" stroke-width="2.1"/>
<line x1="980.1" y1="329.9" x2="980.1" y2="448.7" stroke="#000" stroke-width="2.1"/>
<line x1="975.8" y1="329.9" x2="984.4" y2="329.9" stroke="#000" stroke-width="2.1"/>
<line x1="975.8" y1="448.7" x2="984.4" y2="448.7" stroke="#000" stroke-width="2.1"/>
<line x1="1024.9" y1="310.8" x2="1024.9" y2="393.5" stroke="#000" stroke-width="2.1"/>
<line x1="1020.6" y1="310.8" x2="1029.2" y2="310.8" stroke="#000" stroke-width="2.1"/>
<line x1="1020.6" y1="393.5" x2="1029.2" y2="393.5" stroke="#000" stroke-width="2.1"/>
<line x1="1059.9" y1="273.1" x2="1059.9" y2="357.3" stroke="#000" stroke-width="2.1"/>
<line x1="1055.6" y1="273.1" x2="1064.2" y2="273.1" stroke="#000" stroke-width="2.1"/>
<line x1="1055.6" y1="357.3" x2="1064.2" y2="357.3" stroke="#000" stroke-width="2.1"/>
<line x1="1097.5" y1="164.7" x2="1097.5" y2="335.4" stroke="#000" stroke-width="2.1"/>
<line x1="1093.2" y1="164.7" x2="1101.8" y2="164.7" stroke="#000" stroke-width="2.1"/>
<line x1="1093.2" y1="335.4" x2="1101.8" y2="335.4" stroke="#000" stroke-width="2.1"/>
<line x1="876.9" y1="479.9" x2="1330.7" y2="99.1" stroke="#dcdcdc" stroke-width="1.3"/>
<line x1="1169.3" y1="242.4" x2="1178.7" y2="251.8" stroke="#1414f0" stroke-width="1.6"/>
<line x1="1169.3" y1="251.8" x2="1178.7" y2="242.4" stroke="#1414f0" stroke-width="1.6"/>
<line x1="1229.8" y1="184.6" x2="1239.2" y2="194" stroke="#1414f0" stroke-width="1.6"/>
<line x1="1229.8" y1="194" x2="1239.2" y2="184.6" stroke="#1414f0" stroke-width="1.6"/>
<line x1="1245.6" y1="136.9" x2="1255" y2="146.3" stroke="#1414f0" stroke-width="1.6"/>
<line x1="1245.6" y1="146.3" x2="1255" y2="136.9" stroke="#1414f0" stroke-width="1.6"/>
<line x1="1020.2" y1="355.5" x2="1029.6" y2="364.9" stroke="#1414f0" stroke-width="1.6"/>
<line x1="1020.2" y1="364.9" x2="1029.6" y2="355.5" stroke="#1414f0" stroke-width="1.6"/>
<line x1="1106.9" y1="316.5" x2="1116.3" y2="325.9" stroke="#1414f0" stroke-width="1.6"/>
<line x1="1106.9" y1="325.9" x2="1116.3" y2="316.5" stroke="#1414f0" stroke-width="1.6"/>
<line x1="1140.2" y1="204.3" x2="1149.6" y2="213.7" stroke="#1414f0" stroke-width="1.6"/>
<line x1="1140.2" y1="213.7" x2="1149.6" y2="204.3" stroke="#1414f0" stroke-width="1.6"/>
<line x1="975.4" y1="412.5" x2="984.8" y2="421.9" stroke="#1414f0" stroke-width="1.6"/>
<line x1="975.4" y1="421.9" x2="984.8" y2="412.5" stroke="#1414f0" stroke-width="1.6"/>
<line x1="1020.2" y1="355.5" x2="1029.6" y2="364.9" stroke="#1414f0" stroke-width="1.6"/>
<line x1="1020.2" y1="364.9" x2="1029.6" y2="355.5" stroke="#1414f0" stroke-width="1.6"/>
<line x1="1055.2" y1="309.9" x2="1064.6" y2="319.3" stroke="#1414f0" stroke-width="1.6"/>
<line x1="1055.2" y1="319.3" x2="1064.6" y2="309.9" stroke="#1414f0" stroke-width="1.6"/>
<line x1="1092.8" y1="268.4" x2="1102.2" y2="277.8" stroke="#1414f0" stroke-width="1.6"/>
<line x1="1092.8" y1="277.8" x2="1102.2" y2="268.4" stroke="#1414f0" stroke-width="1.6"/>
<line x1="1205" y1="407.6" x2="1241.7" y2="407.6" stroke="#1ee61e" stroke-width="1.6"/>
<text x="1259.3" y="414.5" font-size="20" fill="#000" stroke="#000" stroke-width="0.32">1−year</text>
<line x1="1205" y1="431.9" x2="1241.7" y2="431.9" stroke="#1414f0" stroke-width="1.6"/>
<text x="1259.3" y="438.8" font-size="20" fill="#000" stroke="#000" stroke-width="0.32">3−year</text>
<line x1="1205" y1="456.2" x2="1241.7" y2="456.2" stroke="#f01414" stroke-width="1.6"/>
<text x="1259.3" y="463.1" font-size="20" fill="#000" stroke="#000" stroke-width="0.32">5−year</text>
</g>
<g id="panel-c">
<text x="1462" y="37.6" font-size="53" style='font-family:"Liberation Serif", "Times New Roman", Times, serif' fill="#000">C</text>
<line x1="1515.6" y1="502.1" x2="1995.6" y2="83.9" stroke="#000" stroke-width="1.4"/>
<polyline points="1532.7,486.41 1532.7,374.97 1559.78,374.97 1559.78,331.02 1589.56,331.02 1589.56,303.53 1620.39,303.53 1620.39,271.24 1653.51,271.24 1653.51,268.54 1686,268.54 1686,252.5 1721.2,252.5 1721.2,236.66 1756.64,236.66 1756.64,212.74 1794.61,212.74 1794.61,169.98 1836.13,169.98 1836.13,159.49 1879.81,159.49 1879.81,146.37 1925.34,146.37 1925.34,105.93 1977.82,105.93 1977.82,98.98" fill="none" stroke="#e61414" stroke-width="2.05" stroke-linejoin="round"/>
<polyline points="1532.7,486.41 1532.7,461.83 1552.7,461.83 1552.7,417.05 1578.53,417.05 1578.53,300.4 1612.68,300.4 1612.68,218.8 1649,218.8 1649,207.7 1686.2,207.7 1686.2,193.9 1724.23,193.91 1724.23,183.1 1762.82,183.1 1762.82,161.8 1801.87,161.8 1801.87,142.2 1842,142.2 1842,120.9 1883.21,120.9 1883.21,98.83 1977.82,98.83" fill="none" stroke="#e8be1c" stroke-width="2.05" stroke-linejoin="round"/>
<polyline points="1532.7,486.41 1532.7,482.66 1570.82,480.16 1570.82,469.74 1608.73,463.91 1608.73,342.69 1646.43,328.52 1683.3,302.07 1683.3,272.28 1721.2,259.16 1758.28,243.75 1758.28,191.13 1831.19,165.35 1831.19,155.63 1868.24,154.09 1868.24,150.23 1904.97,147.91 1904.97,139.42 1941.55,137.88 1941.55,102.84 1977.82,101.61 1977.82,98.98" fill="none" stroke="#46d61c" stroke-width="2.05" stroke-linejoin="round"/>
<polyline points="1532.7,486.41 1767.91,220.15 1977.82,99.29" fill="none" stroke="#22dc84" stroke-width="2.05" stroke-linejoin="round"/>
<polyline points="1532.7,486.41 1785.35,238.2 1977.82,99.76" fill="none" stroke="#1c84e6" stroke-width="2.05" stroke-linejoin="round"/>
<polyline points="1532.7,486.41 1598.52,441 1738.59,246.69 1776.71,139.89 1977.82,98.98" fill="none" stroke="#4412e6" stroke-width="2.05" stroke-linejoin="round"/>
<rect x="1515.6" y="83.9" width="480" height="418.2" fill="none" stroke="#000" stroke-width="1.6"/>
<line x1="1505.3" y1="486.5" x2="1515.6" y2="486.5" stroke="#000" stroke-width="1.3"/>
<text font-size="17" text-anchor="middle" fill="#000" stroke="#000" stroke-width="0.25" transform="translate(1492.2 486.5) rotate(-90) scale(1 1.08)">0.0</text>
<line x1="1532.9" y1="502.1" x2="1532.9" y2="512.9" stroke="#000" stroke-width="1.3"/>
<text x="1532.9" y="539.2" font-size="16.3" text-anchor="middle" fill="#000" stroke="#000" stroke-width="0.26">0.0</text>
<line x1="1505.3" y1="408.98" x2="1515.6" y2="408.98" stroke="#000" stroke-width="1.3"/>
<text font-size="17" text-anchor="middle" fill="#000" stroke="#000" stroke-width="0.25" transform="translate(1492.2 408.98) rotate(-90) scale(1 1.08)">0.2</text>
<line x1="1621.88" y1="502.1" x2="1621.88" y2="512.9" stroke="#000" stroke-width="1.3"/>
<text x="1621.88" y="539.2" font-size="16.3" text-anchor="middle" fill="#000" stroke="#000" stroke-width="0.26">0.2</text>
<line x1="1505.3" y1="331.46" x2="1515.6" y2="331.46" stroke="#000" stroke-width="1.3"/>
<text font-size="17" text-anchor="middle" fill="#000" stroke="#000" stroke-width="0.25" transform="translate(1492.2 331.46) rotate(-90) scale(1 1.08)">0.4</text>
<line x1="1710.86" y1="502.1" x2="1710.86" y2="512.9" stroke="#000" stroke-width="1.3"/>
<text x="1710.86" y="539.2" font-size="16.3" text-anchor="middle" fill="#000" stroke="#000" stroke-width="0.26">0.4</text>
<line x1="1505.3" y1="253.94" x2="1515.6" y2="253.94" stroke="#000" stroke-width="1.3"/>
<text font-size="17" text-anchor="middle" fill="#000" stroke="#000" stroke-width="0.25" transform="translate(1492.2 253.94) rotate(-90) scale(1 1.08)">0.6</text>
<line x1="1799.84" y1="502.1" x2="1799.84" y2="512.9" stroke="#000" stroke-width="1.3"/>
<text x="1799.84" y="539.2" font-size="16.3" text-anchor="middle" fill="#000" stroke="#000" stroke-width="0.26">0.6</text>
<line x1="1505.3" y1="176.42" x2="1515.6" y2="176.42" stroke="#000" stroke-width="1.3"/>
<text font-size="17" text-anchor="middle" fill="#000" stroke="#000" stroke-width="0.25" transform="translate(1492.2 176.42) rotate(-90) scale(1 1.08)">0.8</text>
<line x1="1888.82" y1="502.1" x2="1888.82" y2="512.9" stroke="#000" stroke-width="1.3"/>
<text x="1888.82" y="539.2" font-size="16.3" text-anchor="middle" fill="#000" stroke="#000" stroke-width="0.26">0.8</text>
<line x1="1505.3" y1="98.9" x2="1515.6" y2="98.9" stroke="#000" stroke-width="1.3"/>
<text font-size="17" text-anchor="middle" fill="#000" stroke="#000" stroke-width="0.25" transform="translate(1492.2 98.9) rotate(-90) scale(1 1.08)">1.0</text>
<line x1="1977.8" y1="502.1" x2="1977.8" y2="512.9" stroke="#000" stroke-width="1.3"/>
<text x="1977.8" y="539.2" font-size="16.3" text-anchor="middle" fill="#000" stroke="#000" stroke-width="0.26">1.0</text>
<text font-size="16.8" text-anchor="middle" fill="#000" stroke="#000" stroke-width="0.25" transform="translate(1450.7 292.4) rotate(-90) scale(1 1.1)">Sensitivity</text>
<text x="1755.6" y="578.6" font-size="16.3" text-anchor="middle" fill="#000" stroke="#000" stroke-width="0.26">1−Specificity</text>
<line x1="1763.2" y1="381.5" x2="1794.8" y2="381.5" stroke="#e61414" stroke-width="2.05"/>
<text x="1809" y="387.4" font-size="16.8" fill="#000" stroke="#000" stroke-width="0.27">Risk, AUC=0.683</text>
<line x1="1763.2" y1="401.7" x2="1794.8" y2="401.7" stroke="#e8be1c" stroke-width="2.05"/>
<text x="1809" y="407.6" font-size="16.8" fill="#000" stroke="#000" stroke-width="0.27">Nomogram, AUC=0.753</text>
<line x1="1763.2" y1="421.9" x2="1794.8" y2="421.9" stroke="#46d61c" stroke-width="2.05"/>
<text x="1809" y="427.8" font-size="16.8" fill="#000" stroke="#000" stroke-width="0.27">Age, AUC=0.602</text>
<line x1="1763.2" y1="442.1" x2="1794.8" y2="442.1" stroke="#22dc84" stroke-width="2.05"/>
<text x="1809" y="448" font-size="16.8" fill="#000" stroke="#000" stroke-width="0.27">Gender, AUC=0.579</text>
<line x1="1763.2" y1="462.1" x2="1794.8" y2="462.1" stroke="#1c84e6" stroke-width="2.05"/>
<text x="1809" y="468" font-size="16.8" fill="#000" stroke="#000" stroke-width="0.27">Grade, AUC=0.535</text>
<line x1="1763.2" y1="482.2" x2="1794.8" y2="482.2" stroke="#4412e6" stroke-width="2.05"/>
<text x="1809" y="488.1" font-size="16.8" fill="#000" stroke="#000" stroke-width="0.27">Stage, AUC=0.617</text>
</g>
<g id="panel-de">
<text x="13.6" y="633.8" font-size="53" style='font-family:"Liberation Serif", "Times New Roman", Times, serif' fill="#000">D</text>
<text x="271.2" y="709.4" font-size="20.6" text-anchor="end" font-weight="bold" fill="#000" stroke="#000" stroke-width="0.33">pvalue</text>
<text x="494.8" y="711.6" font-size="20.6" text-anchor="end" font-weight="bold" fill="#000" stroke="#000" stroke-width="0.33">Hazard ratio</text>
<line x1="744.4" y1="697.1" x2="744.4" y2="1180.6" stroke="#000" stroke-width="3.4" stroke-dasharray="9.2 15.9" stroke-linecap="round"/>
<text x="87.6" y="801" font-size="20.6" fill="#000" stroke="#000" stroke-width="0.33">Age</text>
<text x="271.2" y="802.4" font-size="20.6" text-anchor="end" fill="#000" stroke="#000" stroke-width="0.33">0.010</text>
<text x="494.8" y="801" font-size="20.6" text-anchor="end" fill="#000" stroke="#000" stroke-width="0.33">1.024(1.006−1.042)</text>
<rect x="737.72" y="784.45" width="22.3" height="22.3" fill="#00ff00" stroke="none" stroke-width="1"/>
<text x="87.6" y="894.3" font-size="20.6" fill="#000" stroke="#000" stroke-width="0.33">Gender</text>
<text x="271.2" y="894.1" font-size="20.6" text-anchor="end" fill="#000" stroke="#000" stroke-width="0.33">0.081</text>
<text x="494.8" y="892.7" font-size="20.6" text-anchor="end" fill="#000" stroke="#000" stroke-width="0.33">1.404(0.959−2.054)</text>
<line x1="736.76" y1="887.3" x2="940.4" y2="887.3" stroke="#000082" stroke-width="4.4"/>
<line x1="736.76" y1="878.7" x2="736.76" y2="895.9" stroke="#000082" stroke-width="3.6" stroke-linecap="round"/>
<line x1="939.2" y1="878.7" x2="939.2" y2="895.9" stroke="#000082" stroke-width="2.4" stroke-linecap="round"/>
<rect x="808.52" y="876.15" width="22.3" height="22.3" fill="#00ff00" stroke="none" stroke-width="1"/>
<text x="87.6" y="985.9" font-size="20.6" fill="#000" stroke="#000" stroke-width="0.33">Grade</text>
<text x="271.2" y="985.7" font-size="20.6" text-anchor="end" fill="#000" stroke="#000" stroke-width="0.33">0.107</text>
<text x="494.8" y="984.3" font-size="20.6" text-anchor="end" fill="#000" stroke="#000" stroke-width="0.33">1.330(0.940−1.883)</text>
<line x1="733.22" y1="978.9" x2="908.9" y2="978.9" stroke="#000082" stroke-width="4.4"/>
<line x1="733.22" y1="970.3" x2="733.22" y2="987.5" stroke="#000082" stroke-width="3.6" stroke-linecap="round"/>
<line x1="908.9" y1="970.3" x2="908.9" y2="987.5" stroke="#000082" stroke-width="3.6" stroke-linecap="round"/>
<rect x="794.73" y="967.75" width="22.3" height="22.3" fill="#00ff00" stroke="none" stroke-width="1"/>
<text x="87.6" y="1075.4" font-size="20.6" fill="#000" stroke="#000" stroke-width="0.33">Stage</text>
<text x="271.2" y="1077.4" font-size="20.6" text-anchor="end" fill="#000" stroke="#000" stroke-width="0.33">&lt;0.001</text>
<text x="494.8" y="1076" font-size="20.6" text-anchor="end" fill="#000" stroke="#000" stroke-width="0.33">1.549(1.244−1.929)</text>
<line x1="789.86" y1="1070.6" x2="917.47" y2="1070.6" stroke="#000082" stroke-width="4.4"/>
<line x1="789.86" y1="1062" x2="789.86" y2="1079.2" stroke="#000082" stroke-width="3.6" stroke-linecap="round"/>
<line x1="917.47" y1="1062" x2="917.47" y2="1079.2" stroke="#000082" stroke-width="3.6" stroke-linecap="round"/>
<rect x="835.53" y="1059.45" width="22.3" height="22.3" fill="#00ff00" stroke="none" stroke-width="1"/>
<text x="87.6" y="1167" font-size="20.6" fill="#000" stroke="#000" stroke-width="0.33">Nomogram</text>
<text x="271.2" y="1169" font-size="20.6" text-anchor="end" fill="#000" stroke="#000" stroke-width="0.33">&lt;0.001</text>
<text x="494.8" y="1167.6" font-size="20.6" text-anchor="end" fill="#000" stroke="#000" stroke-width="0.33">1.033(1.024−1.043)</text>
<rect x="739.4" y="1151.05" width="22.3" height="22.3" fill="#00ff00" stroke="none" stroke-width="1"/>
<line x1="558.1" y1="1180.6" x2="930.7" y2="1180.6" stroke="#000" stroke-width="1.7"/>
<line x1="558.1" y1="1180.6" x2="558.1" y2="1196.1" stroke="#000" stroke-width="1.7"/>
<text font-size="24.8" text-anchor="middle" fill="#000" stroke="#000" stroke-width="0.35" transform="translate(558.1 1220.3) scale(1 1.05)">0.0</text>
<line x1="651.25" y1="1180.6" x2="651.25" y2="1196.1" stroke="#000" stroke-width="1.7"/>
<text font-size="24.8" text-anchor="middle" fill="#000" stroke="#000" stroke-width="0.35" transform="translate(651.25 1220.3) scale(1 1.05)">0.5</text>
<line x1="744.4" y1="1180.6" x2="744.4" y2="1196.1" stroke="#000" stroke-width="1.7"/>
<text font-size="24.8" text-anchor="middle" fill="#000" stroke="#000" stroke-width="0.35" transform="translate(744.4 1220.3) scale(1 1.05)">1.0</text>
<line x1="837.55" y1="1180.6" x2="837.55" y2="1196.1" stroke="#000" stroke-width="1.7"/>
<text font-size="24.8" text-anchor="middle" fill="#000" stroke="#000" stroke-width="0.35" transform="translate(837.55 1220.3) scale(1 1.05)">1.5</text>
<line x1="930.7" y1="1180.6" x2="930.7" y2="1196.1" stroke="#000" stroke-width="1.7"/>
<text font-size="24.8" text-anchor="middle" fill="#000" stroke="#000" stroke-width="0.35" transform="translate(930.7 1220.3) scale(1 1.05)">2.0</text>
<text x="748.7" y="1264.4" font-size="24.95" text-anchor="middle" fill="#000" stroke="#000" stroke-width="0.4">Hazard ratio</text>
<text x="1053.2" y="636.2" font-size="53" style='font-family:"Liberation Serif", "Times New Roman", Times, serif' fill="#000">E</text>
<text x="1275.4" y="689.1" font-size="22.5" text-anchor="end" font-weight="bold" fill="#000" stroke="#000" stroke-width="0.36">pvalue</text>
<text x="1517.8" y="691.3" font-size="22.5" text-anchor="end" font-weight="bold" fill="#000" stroke="#000" stroke-width="0.36">Hazard ratio</text>
<line x1="1823.6" y1="675.7" x2="1823.6" y2="1199.6" stroke="#000" stroke-width="3.4" stroke-dasharray="9.2 17.9" stroke-linecap="round"/>
<text x="1076" y="788.2" font-size="22.5" fill="#000" stroke="#000" stroke-width="0.36">Age</text>
<text x="1275.4" y="790" font-size="22.5" text-anchor="end" fill="#000" stroke="#000" stroke-width="0.36">0.081</text>
<text x="1517.8" y="787.5" font-size="22.5" text-anchor="end" fill="#000" stroke="#000" stroke-width="0.36">1.019(0.998−1.040)</text>
<rect x="1815.95" y="770.55" width="24.3" height="24.3" fill="#ff0000" stroke="none" stroke-width="1"/>
<text x="1076" y="889.1" font-size="22.5" fill="#000" stroke="#000" stroke-width="0.36">Gender</text>
<text x="1275.4" y="889.3" font-size="22.5" text-anchor="end" fill="#000" stroke="#000" stroke-width="0.36">0.443</text>
<text x="1517.8" y="886.8" font-size="22.5" text-anchor="end" fill="#000" stroke="#000" stroke-width="0.36">1.171(0.782−1.753)</text>
<line x1="1771.91" y1="882" x2="2002.14" y2="882" stroke="#000082" stroke-width="4.4"/>
<line x1="1771.91" y1="872.5" x2="1771.91" y2="891.5" stroke="#000082" stroke-width="3.6" stroke-linecap="round"/>
<line x1="2002.14" y1="872.5" x2="2002.14" y2="891.5" stroke="#000082" stroke-width="3.6" stroke-linecap="round"/>
<rect x="1851.99" y="869.85" width="24.3" height="24.3" fill="#ff0000" stroke="none" stroke-width="1"/>
<text x="1076" y="988.4" font-size="22.5" fill="#000" stroke="#000" stroke-width="0.36">Grade</text>
<text x="1275.4" y="988.6" font-size="22.5" text-anchor="end" fill="#000" stroke="#000" stroke-width="0.36">0.342</text>
<text x="1517.8" y="986.1" font-size="22.5" text-anchor="end" fill="#000" stroke="#000" stroke-width="0.36">1.199(0.825−1.741)</text>
<line x1="1782.11" y1="981.3" x2="1999.29" y2="981.3" stroke="#000082" stroke-width="4.4"/>
<line x1="1782.11" y1="971.8" x2="1782.11" y2="990.8" stroke="#000082" stroke-width="3.6" stroke-linecap="round"/>
<line x1="1999.29" y1="971.8" x2="1999.29" y2="990.8" stroke="#000082" stroke-width="3.6" stroke-linecap="round"/>
<rect x="1858.63" y="969.15" width="24.3" height="24.3" fill="#ff0000" stroke="none" stroke-width="1"/>
<text x="1076" y="1085.5" font-size="22.5" fill="#000" stroke="#000" stroke-width="0.36">Stage</text>
<text x="1275.4" y="1087.9" font-size="22.5" text-anchor="end" fill="#000" stroke="#000" stroke-width="0.36">0.087</text>
<text x="1517.8" y="1085.4" font-size="22.5" text-anchor="end" fill="#000" stroke="#000" stroke-width="0.36">1.289(0.964−1.723)</text>
<line x1="1815.06" y1="1080.6" x2="1995.02" y2="1080.6" stroke="#000082" stroke-width="4.4"/>
<line x1="1815.06" y1="1071.1" x2="1815.06" y2="1090.1" stroke="#000082" stroke-width="3.6" stroke-linecap="round"/>
<line x1="1995.02" y1="1071.1" x2="1995.02" y2="1090.1" stroke="#000082" stroke-width="3.6" stroke-linecap="round"/>
<rect x="1879.97" y="1068.45" width="24.3" height="24.3" fill="#ff0000" stroke="none" stroke-width="1"/>
<text x="1076" y="1184.8" font-size="22.5" fill="#000" stroke="#000" stroke-width="0.36">Nomogram</text>
<text x="1275.4" y="1187.2" font-size="22.5" text-anchor="end" fill="#000" stroke="#000" stroke-width="0.36">0.006</text>
<text x="1517.8" y="1184.7" font-size="22.5" text-anchor="end" fill="#000" stroke="#000" stroke-width="0.36">1.021(1.006−1.036)</text>
<rect x="1816.43" y="1167.75" width="24.3" height="24.3" fill="#ff0000" stroke="none" stroke-width="1"/>
<line x1="1586.5" y1="1199.6" x2="1942.15" y2="1199.6" stroke="#000" stroke-width="1.7"/>
<line x1="1586.5" y1="1199.6" x2="1586.5" y2="1216.3" stroke="#000" stroke-width="1.7"/>
<text font-size="26.8" text-anchor="middle" fill="#000" stroke="#000" stroke-width="0.35" transform="translate(1586.5 1242.6) scale(1 1.05)">0.0</text>
<line x1="1705.05" y1="1199.6" x2="1705.05" y2="1216.3" stroke="#000" stroke-width="1.7"/>
<text font-size="26.8" text-anchor="middle" fill="#000" stroke="#000" stroke-width="0.35" transform="translate(1705.05 1242.6) scale(1 1.05)">0.5</text>
<line x1="1823.6" y1="1199.6" x2="1823.6" y2="1216.3" stroke="#000" stroke-width="1.7"/>
<text font-size="26.8" text-anchor="middle" fill="#000" stroke="#000" stroke-width="0.35" transform="translate(1823.6 1242.6) scale(1 1.05)">1.0</text>
<line x1="1942.15" y1="1199.6" x2="1942.15" y2="1216.3" stroke="#000" stroke-width="1.7"/>
<text font-size="26.8" text-anchor="middle" fill="#000" stroke="#000" stroke-width="0.35" transform="translate(1942.15 1242.6) scale(1 1.05)">1.5</text>
<text x="1794.4" y="1290.6" font-size="27.1" text-anchor="middle" fill="#000" stroke="#000" stroke-width="0.43">Hazard ratio</text>
</g>
</svg>
</body>
</html>
